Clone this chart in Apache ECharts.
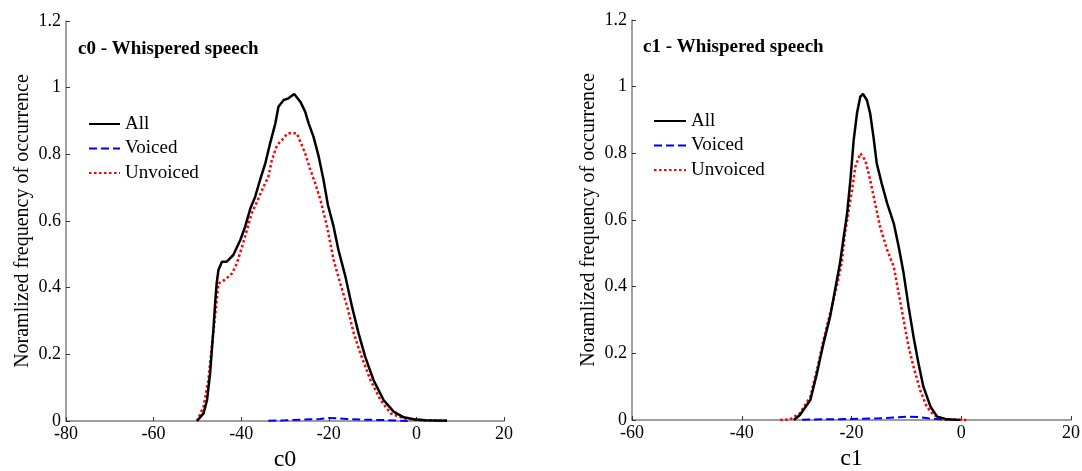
<!DOCTYPE html>
<html>
<head>
<meta charset="utf-8">
<script src="https://cdn.jsdelivr.net/npm/echarts@6/dist/echarts.min.js"></script>
<style>
html,body{margin:0;padding:0;background:#fff;}
#chart{width:1082px;height:471px;}
</style>
</head>
<body>
<div id="chart"></div>
<script>
// ---- c0 (left panel) ----
var c0AllX = [-50.1,-48.6,-47.8,-47.1,-46.7,-46.3,-45.9,-45.6,-45.2,-44.4,-43.3,-41.8,-40.2,-39.1,-37.9,-36.8,-35.7,-34.5,-33.4,-32.2,-31.5,-30.3,-29.2,-27.9,-26.5,-25.4,-24.6,-23.5,-22.3,-21.2,-20.2,-18.9,-17.8,-16.2,-14.7,-13.2,-11.7,-9.8,-7.5,-5.2,-2.9,-0.6,2,7];
var c0AllY = [0,0.023,0.063,0.143,0.213,0.283,0.363,0.413,0.453,0.478,0.478,0.498,0.543,0.583,0.638,0.673,0.723,0.773,0.833,0.893,0.943,0.963,0.968,0.981,0.958,0.928,0.893,0.853,0.793,0.723,0.648,0.583,0.513,0.433,0.343,0.263,0.193,0.123,0.063,0.028,0.011,0.005,0.002,0.001];
var c0UnvX = [-50.1,-48.6,-47.5,-46.7,-45.9,-45.2,-44.4,-43.3,-42.1,-41.0,-39.8,-38.7,-37.6,-36.4,-34.9,-33.8,-33.0,-31.8,-30.7,-29.4,-27.3,-26.5,-25.4,-24.2,-23.1,-21.9,-20.4,-18.9,-17.4,-15.8,-14.3,-12.8,-10.5,-8.2,-5.9,-2.9,0,7];
var c0UnvY = [0,0.043,0.123,0.223,0.323,0.413,0.418,0.428,0.443,0.473,0.523,0.573,0.623,0.658,0.703,0.733,0.783,0.828,0.843,0.863,0.863,0.838,0.803,0.753,0.713,0.663,0.583,0.483,0.413,0.343,0.263,0.203,0.123,0.063,0.023,0.008,0.003,0.001];
var c0VoiX = [-33.8,-30,-26,-22,-20,-18,-16,-12,-8,-4,-2];
var c0VoiY = [0.001,0.002,0.004,0.006,0.009,0.008,0.006,0.004,0.003,0.001,0];

// ---- c1 (right panel) ----
var c1AllX = [-30.5,-29.4,-27.5,-26.3,-25.1,-23.9,-23.0,-22.1,-21.5,-20.8,-20.2,-19.6,-19.0,-18.4,-17.9,-17.2,-16.6,-16.0,-15.4,-14.5,-13.5,-12.3,-11.4,-10.5,-9.6,-8.7,-7.8,-6.9,-5.6,-4.4,-2.6,-0.2];
var c1AllY = [0,0.015,0.06,0.14,0.23,0.31,0.39,0.47,0.54,0.62,0.72,0.84,0.92,0.97,0.978,0.96,0.92,0.85,0.77,0.71,0.65,0.59,0.52,0.44,0.34,0.25,0.17,0.10,0.04,0.01,0.002,0];
var c1UnvX = [-33.0,-31.2,-29.4,-27.5,-26.3,-25.1,-23.9,-22.7,-21.8,-21.2,-20.6,-19.9,-19.3,-18.4,-17.5,-16.6,-15.7,-14.8,-13.5,-12.3,-11.4,-10.5,-9.6,-8.7,-7.5,-6.3,-5.0,-3.2,1.0];
var c1UnvY = [0,0.002,0.02,0.07,0.15,0.24,0.32,0.40,0.47,0.56,0.62,0.69,0.76,0.80,0.78,0.72,0.65,0.58,0.51,0.46,0.38,0.30,0.22,0.16,0.09,0.04,0.015,0.002,0];
var c1VoiX = [-29,-25,-20,-15,-12,-10,-8,-6,-4,-2.6];
var c1VoiY = [0.001,0.002,0.003,0.005,0.008,0.01,0.009,0.005,0.002,0];

var seriesNames = ['All','Voiced','Unvoiced'];
var panelTitles = ['c0 - Whispered speech','c1 - Whispered speech'];
var xNames = ['c0','c1'];
var yName = 'Noramlized frequency of occurrence';

function pairs(xs, ys){ return xs.map(function(x,i){ return [x, ys[i]]; }); }

var FONT = '"Liberation Serif","Times New Roman",serif';
var axisGray = '#808080';

function xAxis(idx, min, name){
  return {
    type:'value', gridIndex: idx, min: min, max: 20, interval: 20,
    name: name, nameLocation:'middle', nameGap: 24,
    nameTextStyle:{fontFamily:FONT, fontSize:24, color:'#000'},
    axisLine:{show:true, onZero:false, lineStyle:{color:axisGray, width:1.5}},
    axisTick:{show:true, inside:true, length:4, lineStyle:{color:'#333', width:1}},
    axisLabel:{fontFamily:FONT, fontSize:18, color:'#000', margin:4},
    splitLine:{show:false}
  };
}
function yAxis(idx){
  return {
    type:'value', gridIndex: idx, min: 0, max: 1.2, interval: 0.2,
    name: yName, nameLocation:'middle', nameGap: 33, nameRotate: 90,
    nameTextStyle:{fontFamily:FONT, fontSize:20, color:'#000'},
    axisLine:{show:true, onZero:false, lineStyle:{color:axisGray, width:1.5}},
    axisTick:{show:true, inside:true, length:4, lineStyle:{color:'#333', width:1}},
    axisLabel:{fontFamily:FONT, fontSize:18, color:'#000', margin:5},
    splitLine:{show:false}
  };
}
function mkSeries(name, data, idx, color, type, width){
  return {
    name: name, type:'line', xAxisIndex: idx, yAxisIndex: idx,
    data: data, showSymbol:false, symbol:'none', smooth:false, animation:false,
    lineStyle:{color:color, type:type, width:width},
    itemStyle:{color:color}
  };
}
function legend(left, top, w){
  return {
    orient:'vertical', left:left, top:top, padding:0, itemWidth:w, itemHeight:14, itemGap:5.5,
    data: seriesNames,
    itemStyle:{color:'transparent', borderWidth:0, opacity:0},
    textStyle:{fontFamily:FONT, fontSize:19, color:'#000', lineHeight:19}
  };
}

var option = {
  backgroundColor:'#fff',
  animation:false,
  title:[
    {text: panelTitles[0], left:73, top:35, textStyle:{fontFamily:FONT, fontSize:19, fontWeight:'bold', color:'#000'}},
    {text: panelTitles[1], left:638, top:33, textStyle:{fontFamily:FONT, fontSize:19, fontWeight:'bold', color:'#000'}}
  ],
  legend:[ legend(88, 114.5, 31), legend(653, 111.5, 32) ],
  grid:[
    {left:66, top:21, width:438, height:400, outerBoundsMode:'none', containLabel:false},
    {left:632, top:20, width:439, height:400, outerBoundsMode:'none', containLabel:false}
  ],
  xAxis:[ xAxis(0, -80, xNames[0]), xAxis(1, -60, xNames[1]) ],
  yAxis:[ yAxis(0), yAxis(1) ],
  series:[
    mkSeries(seriesNames[1], pairs(c0VoiX, c0VoiY), 0, '#0000ff', [8,4], 2),
    mkSeries(seriesNames[2], pairs(c0UnvX, c0UnvY), 0, '#ff0000', [2.5,2.5], 2.5),
    mkSeries(seriesNames[0], pairs(c0AllX, c0AllY), 0, '#000000', 'solid', 2.5),
    mkSeries(seriesNames[1], pairs(c1VoiX, c1VoiY), 1, '#0000ff', [8,4], 2),
    mkSeries(seriesNames[2], pairs(c1UnvX, c1UnvY), 1, '#ff0000', [2.5,2.5], 2.5),
    mkSeries(seriesNames[0], pairs(c1AllX, c1AllY), 1, '#000000', 'solid', 2.5)
  ]
};
var chart = echarts.init(document.getElementById('chart'), null, {renderer:'canvas'});
chart.setOption(option);
</script>
</body>
</html>
